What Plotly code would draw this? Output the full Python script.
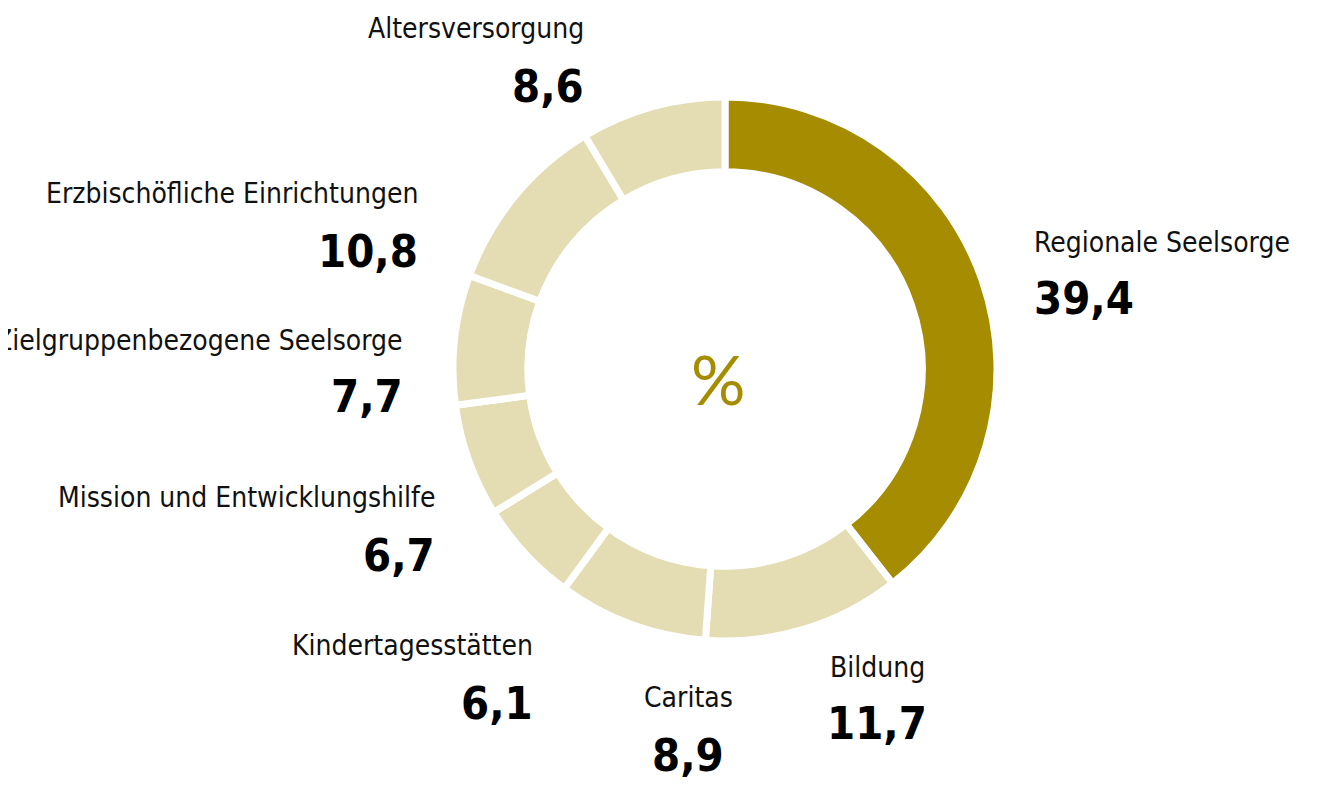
import plotly.graph_objects as go

categories = ["Regionale Seelsorge", "Bildung", "Caritas", "Kindertagesstätten",
              "Mission und Entwicklungshilfe", "Zielgruppenbezogene Seelsorge",
              "Erzbischöfliche Einrichtungen", "Altersversorgung"]
values = [39.4, 11.7, 8.9, 6.1, 6.7, 7.7, 10.8, 8.6]

DARK = "#A68C00"
LIGHT = "#E4DCB3"
colors = [DARK] + [LIGHT] * (len(values) - 1)

# page has an 8px body margin; figure is sized to fit inside the viewport
OFF = 8
W, H = 1340 - OFF, 785 - OFF


def px_x(x):
    return (x - OFF) / W


def px_y(y):
    return 1 - (y - OFF) / H


cx, cy, R = 725, 369, 272

fig = go.Figure(go.Pie(
    labels=categories, values=values, sort=False, direction="clockwise",
    rotation=0, hole=0.725, textinfo="none", hoverinfo="label+value",
    marker=dict(colors=colors, line=dict(color="white", width=7)),
    showlegend=False,
    domain=dict(x=[px_x(cx - R), px_x(cx + R)], y=[px_y(cy + R), px_y(cy - R)]),
))

# label placement: (anchor x px, label y px, value y px, xanchor)
placement = [
    (1032, 242, 298, "left"),
    (877, 667, 723, "center"),
    (688, 697, 755, "center"),
    (535, 645, 703, "right"),
    (437, 497, 555, "right"),
    (405, 340, 397, "right"),
    (420, 193, 252, "right"),
    (586, 28, 86, "right"),
]

LABEL_FONT = "DejaVu Sans Condensed, Liberation Sans Narrow, Roboto, sans-serif"
for cat, val, (px, ly, vy, xa) in zip(categories, values, placement):
    fig.add_annotation(x=px_x(px), y=px_y(ly), xref="paper", yref="paper",
                       text=cat, showarrow=False, xanchor=xa, yanchor="middle",
                       font=dict(family=LABEL_FONT, size=28, color="#111111"))
    fig.add_annotation(x=px_x(px), y=px_y(vy), xref="paper", yref="paper",
                       text=f"<b>{val:.1f}</b>".replace(".", ","), showarrow=False,
                       xanchor=xa, yanchor="middle",
                       font=dict(family=LABEL_FONT, size=45, color="#000000"))

fig.add_annotation(x=px_x(718), y=px_y(378), xref="paper", yref="paper",
                   text="%", showarrow=False, xanchor="center", yanchor="middle",
                   font=dict(family="Lato, Open Sans, sans-serif", size=68, color=DARK))

fig.update_layout(width=W, height=H, margin=dict(l=0, r=0, t=0, b=0),
                  paper_bgcolor="white", plot_bgcolor="white")

fig.write_html("out.html")
